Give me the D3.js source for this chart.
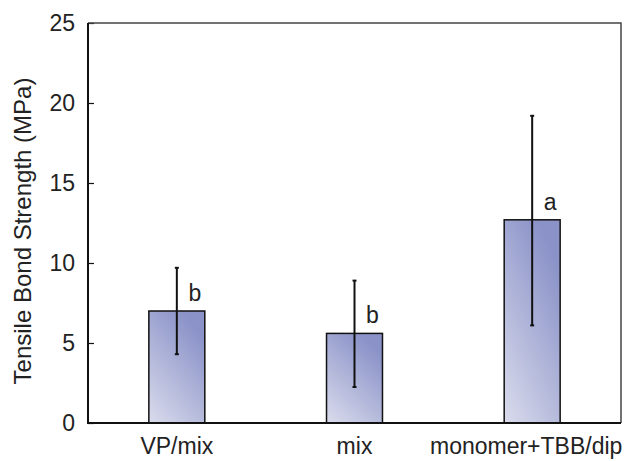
<!DOCTYPE html>
<html>
<head>
<meta charset="utf-8">
<script src="https://cdn.jsdelivr.net/npm/d3@7"></script>
<style>
  body { margin: 0; background: #fff; }
  text { font-family: "Liberation Sans", Arial, sans-serif; fill: #222; }
</style>
</head>
<body>
<div class="canvas"></div>
<script>
// data
const groups = ["VP/mix", "mix", "monomer+TBB/dip"];
const means = [7.0, 5.6, 12.7];
const errLow = [4.3, 2.25, 6.1];
const errHigh = [9.7, 8.9, 19.2];
const letters = ["b", "b", "a"];
const yTicks = [0, 5, 10, 15, 20, 25];

const width = 638, height = 461;
const margin = {top: 23, right: 17, bottom: 38, left: 88};
const graphWidth = width - margin.left - margin.right;
const graphHeight = height - margin.top - margin.bottom;

const svg = d3.select(".canvas").append("svg")
    .attr("width", width)
    .attr("height", height);

// bar fill gradient, light bottom-left to darker top-right
const grad = svg.append("defs").append("linearGradient")
    .attr("id", "barGrad")
    .attr("x1", 0).attr("y1", 1)
    .attr("x2", 0.6).attr("y2", 0);
grad.append("stop").attr("offset", "0%").attr("stop-color", "#dadcec");
grad.append("stop").attr("offset", "100%").attr("stop-color", "#8a92c8");

const graph = svg.append("g")
    .attr("transform", `translate(${margin.left}, ${margin.top})`);

const x = d3.scaleBand()
    .domain(groups)
    .range([0, graphWidth])
    .paddingInner(0.685)
    .paddingOuter(0.3425);

const y = d3.scaleLinear()
    .domain([0, 25])
    .range([graphHeight, 0]);

// bars
graph.selectAll("rect.bar")
    .data(groups)
    .enter()
    .append("rect")
    .attr("class", "bar")
    .attr("x", d => x(d))
    .attr("y", (d, i) => y(means[i]))
    .attr("width", x.bandwidth())
    .attr("height", (d, i) => graphHeight - y(means[i]))
    .attr("fill", "url(#barGrad)")
    .attr("stroke", "#111")
    .attr("stroke-width", 1.5);

// error bars
const cx = d => x(d) + x.bandwidth() / 2;
graph.selectAll("line.err")
    .data(groups)
    .enter()
    .append("line")
    .attr("class", "err")
    .attr("x1", cx).attr("x2", cx)
    .attr("y1", (d, i) => y(errLow[i]))
    .attr("y2", (d, i) => y(errHigh[i]))
    .attr("stroke", "#111")
    .attr("stroke-width", 2);

[errLow, errHigh].forEach(arr => {
  graph.selectAll(null)
    .data(groups)
    .enter()
    .append("line")
    .attr("x1", d => cx(d) - 2).attr("x2", d => cx(d) + 2)
    .attr("y1", (d, i) => y(arr[i]))
    .attr("y2", (d, i) => y(arr[i]))
    .attr("stroke", "#111")
    .attr("stroke-width", 2);
});

// significance letters
graph.selectAll("text.sig")
    .data(groups)
    .enter()
    .append("text")
    .attr("class", "sig")
    .attr("x", d => cx(d) + 18)
    .attr("y", (d, i) => y(means[i]) - 10)
    .attr("text-anchor", "middle")
    .style("font-size", "23px")
    .text((d, i) => letters[i]);

// y axis, ticks pointing inward
const yAxis = d3.axisRight(y).tickValues(yTicks).tickSize(6).tickFormat("");
graph.append("g").call(yAxis)
    .call(g => g.select(".domain").remove())
    .selectAll("line").attr("stroke", "#111").attr("stroke-width", 1.2);

graph.selectAll("text.ytick")
    .data(yTicks)
    .enter()
    .append("text")
    .attr("class", "ytick")
    .attr("x", -13)
    .attr("y", d => y(d))
    .attr("dy", "0.36em")
    .attr("text-anchor", "end")
    .style("font-size", "23px")
    .text(d => d);

// x labels (kept clear of the bottom edge)
const xAxis = d3.axisBottom(x).tickSize(0).tickPadding(15);
graph.append("g")
    .attr("transform", `translate(0, ${graphHeight})`)
    .call(xAxis)
    .call(g => g.select(".domain").remove())
    .selectAll("text")
    .style("font-family", "'Liberation Sans', Arial, sans-serif")
    .style("font-size", "23px")
    .attr("fill", "#222")
    .attr("dx", (d, i) => i === 2 ? -6 : 0);

// frame
graph.append("path")
    .attr("d", `M0,0H${graphWidth}V${graphHeight}`)
    .attr("fill", "none")
    .attr("stroke", "#444")
    .attr("stroke-width", 1.5);
graph.append("path")
    .attr("d", `M0,0V${graphHeight}H${graphWidth}`)
    .attr("fill", "none")
    .attr("stroke", "#111")
    .attr("stroke-width", 2);

// axis title
svg.append("text")
    .attr("transform", `translate(31, ${margin.top + graphHeight / 2 + 8}) rotate(-90)`)
    .attr("text-anchor", "middle")
    .style("font-size", "24px")
    .text("Tensile Bond Strength (MPa)");
</script>
</body>
</html>
